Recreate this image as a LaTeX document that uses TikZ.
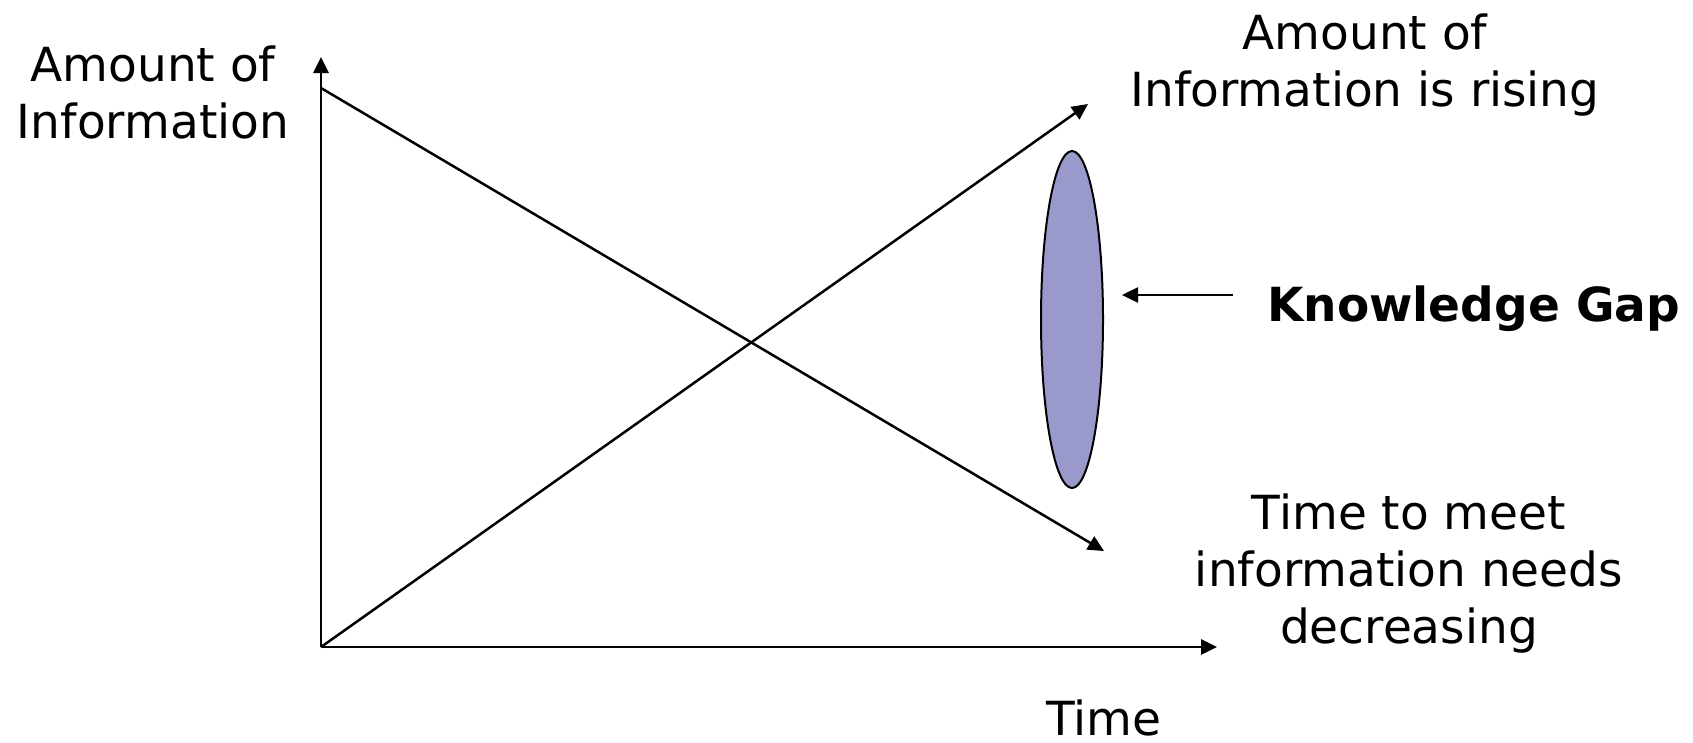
\documentclass[tikz,border=0pt]{standalone}
\usepackage{fontspec}
\setmainfont{DejaVu Sans}
\usetikzlibrary{arrows.meta}
\definecolor{gapfill}{RGB}{153,153,204}
\begin{document}
\begin{tikzpicture}[x=1pt,y=-1pt,
  axisline/.style={line width=2.8pt,-{Triangle[length=16pt,width=15pt]}},
  trendline/.style={line width=2.5pt,-{Triangle[length=16pt,width=15pt]}},
  lbl/.style={inner sep=0pt,align=center,font=\fontsize{47}{57}\selectfont}]
\useasboundingbox (0,0) rectangle (1693,742);
\coordinate (O) at (321,647);
\coordinate (ytip) at (321,57);
\coordinate (xtip) at (1217,647);
\coordinate (dstart) at (321,88);
\coordinate (dtip) at (1104,551);
\coordinate (atip) at (1088,104);
\coordinate (kgstart) at (1233,295);
\coordinate (kgtip) at (1122,295);
\draw[axisline] (O) -- (ytip);
\draw[axisline] (O) -- (xtip);
\draw[trendline] (dstart) -- (dtip);
\draw[trendline] (O) -- (atip);
\draw[line width=2pt,fill=gapfill] (1072,319.5) ellipse [x radius=31, y radius=168.5];
\draw[trendline] (kgstart) -- (kgtip);
\node[lbl,anchor=base] (yl) at (153,138) {Amount of\\Information};
\node[lbl,anchor=base] (rl) at (1365,106) {Amount of\\Information is rising};
\node[lbl,anchor=base west,font=\fontsize{47}{57}\selectfont\bfseries] (kg) at (1267,321) {Knowledge Gap};
\node[lbl,anchor=base] (tl) at (1104,735) {Time};
\node[lbl,anchor=base] (dl) at (1409,643) {Time to meet\\information needs\\decreasing};
\end{tikzpicture}
\end{document}
